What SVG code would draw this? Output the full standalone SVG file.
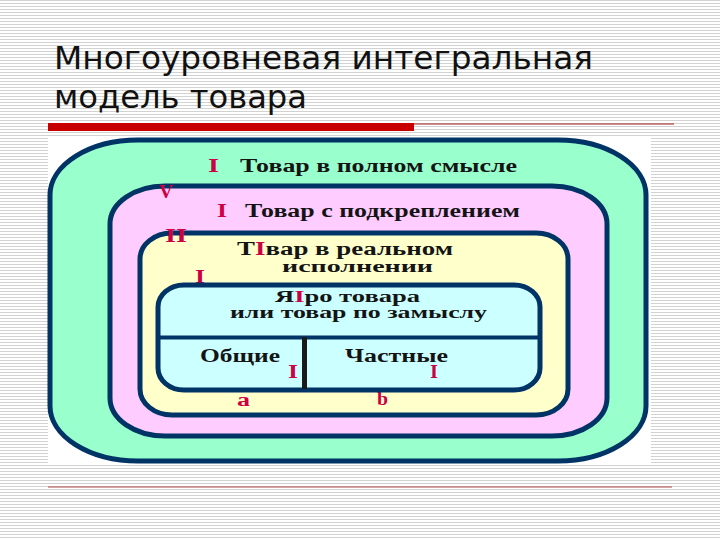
<svg xmlns="http://www.w3.org/2000/svg" width="720" height="540" viewBox="0 0 720 540">
  <defs>
    <pattern id="stripes" width="6" height="3" patternUnits="userSpaceOnUse">
      <rect width="6" height="3" fill="#ffffff"/>
      <rect width="6" height="1" fill="#d2d2d2"/>
    </pattern>
  </defs>
  <style>
    .title { font-family: "DejaVu Sans", "Noto Sans", sans-serif; font-size: 32px; fill: #111; }
    .layer { stroke: #003366; stroke-width: 5; }
    .lbl { font-family: "Liberation Serif", "DejaVu Serif", serif; font-weight: bold; font-size: 18px; fill: #141414; }
    .sm { font-size: 16px; }
    .num { font-family: "Liberation Serif", "DejaVu Serif", serif; font-weight: bold; font-size: 18px; fill: #cc0044; }
    .red { fill: #cc0044; }
  </style>
  <rect width="720" height="540" fill="url(#stripes)"/>
  <g id="title">
    <text class="title" x="54" y="69" textLength="539" lengthAdjust="spacingAndGlyphs">Многоуровневая интегральная</text>
    <text class="title" x="54" y="108" textLength="253" lengthAdjust="spacingAndGlyphs">модель товара</text>
    <rect x="48" y="123" width="366" height="8" fill="#c80000"/>
    <line x1="414" y1="124" x2="674" y2="124" stroke="#a02020" stroke-width="1"/>
    <line x1="48" y1="487" x2="672" y2="487" stroke="#b04848" stroke-width="1"/>
  </g>
  <rect x="48" y="137" width="603" height="327" fill="#ffffff"/>
  <g id="layer-full">
    <rect class="layer" x="50" y="140" width="596" height="321" rx="88" ry="55" fill="#99ffcc" stroke-width="6"/>
    <text class="num" x="208" y="172" textLength="11" lengthAdjust="spacingAndGlyphs">I</text>
    <text class="lbl" x="240" y="172" textLength="277" lengthAdjust="spacingAndGlyphs">Товар в полном смысле</text>
  </g>
  <g id="layer-augmented">
    <rect class="layer" x="110" y="186" width="497" height="250" rx="55" ry="38" fill="#ffccff"/>
    <text class="num" x="159" y="198" font-size="16" textLength="14" lengthAdjust="spacingAndGlyphs">V</text>
    <text class="num" x="217" y="217" textLength="10" lengthAdjust="spacingAndGlyphs">I</text>
    <text class="lbl" x="245" y="217" textLength="275" lengthAdjust="spacingAndGlyphs">Товар с подкреплением</text>
  </g>
  <g id="layer-actual">
    <rect class="layer" x="140" y="233" width="428" height="182" rx="32" ry="26" fill="#ffffcc"/>
    <text class="num" x="165" y="242" font-size="17" textLength="22" lengthAdjust="spacingAndGlyphs">II</text>
    <text class="lbl" x="237" y="255" textLength="216" lengthAdjust="spacingAndGlyphs">Т<tspan class="red">I</tspan>вар в реальном</text>
    <text class="lbl sm" x="282" y="272" textLength="151" lengthAdjust="spacingAndGlyphs">исполнении</text>
    <text class="num" x="195" y="283" textLength="10" lengthAdjust="spacingAndGlyphs">I</text>
    <text class="num" x="237" y="406" font-size="17" textLength="13" lengthAdjust="spacingAndGlyphs">a</text>
    <text class="num" x="377" y="405" font-size="17" textLength="11" lengthAdjust="spacingAndGlyphs">b</text>
  </g>
  <g id="layer-core">
    <rect class="layer" x="158" y="285" width="382" height="105" rx="26" ry="22" fill="#ccffff"/>
    <line x1="158" y1="337.5" x2="540" y2="337.5" stroke="#003366" stroke-width="4"/>
    <line x1="304.5" y1="337" x2="304.5" y2="389" stroke="#1a1a1a" stroke-width="5"/>
    <text class="lbl sm" x="275" y="302" textLength="145" lengthAdjust="spacingAndGlyphs">Я<tspan class="red">I</tspan>ро товара</text>
    <text class="lbl sm" x="230" y="318" textLength="257" lengthAdjust="spacingAndGlyphs">или товар по замыслу</text>
    <text class="lbl" x="200" y="362" textLength="80" lengthAdjust="spacingAndGlyphs">Общие</text>
    <text class="lbl" x="345" y="362" textLength="103" lengthAdjust="spacingAndGlyphs">Частные</text>
    <text class="num" x="288" y="378" textLength="10" lengthAdjust="spacingAndGlyphs">I</text>
    <text class="num" x="430" y="378" font-size="15" textLength="8" lengthAdjust="spacingAndGlyphs">I</text>
  </g>
  <g id="connectors"></g>
</svg>
